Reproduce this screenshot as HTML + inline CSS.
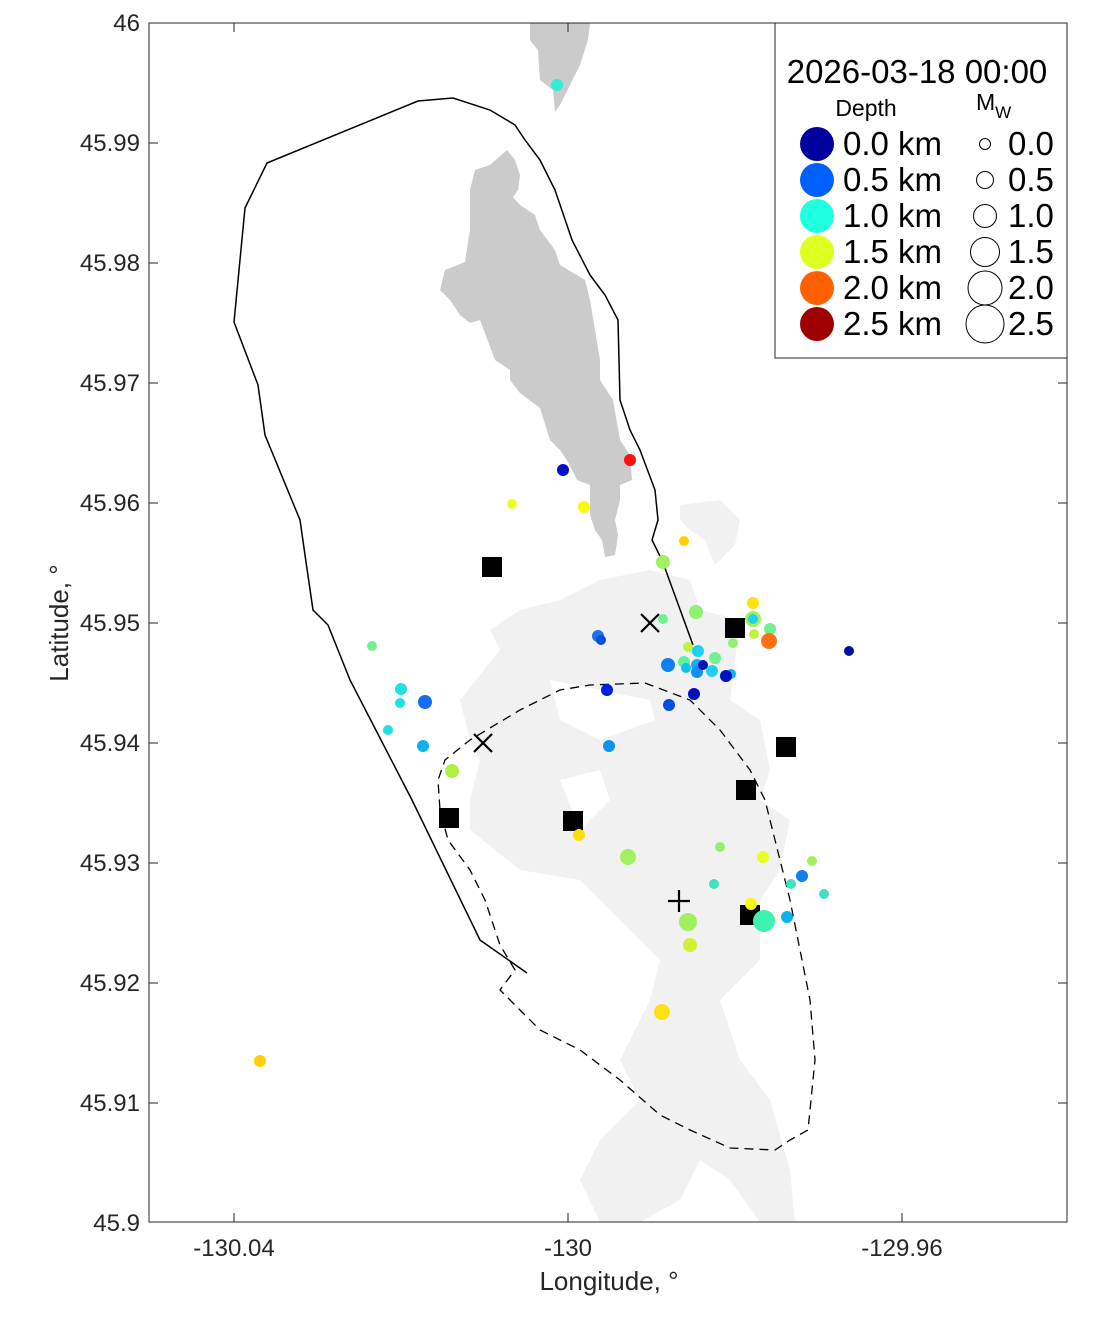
<!DOCTYPE html>
<html><head><meta charset="utf-8"><style>body{margin:0;background:#fff}</style></head><body>
<svg width="1111" height="1324" xmlns="http://www.w3.org/2000/svg" font-family="Liberation Sans, Arial, sans-serif">
<rect width="1111" height="1324" fill="#fff"/>
<defs><clipPath id="c"><rect x="149" y="23" width="918" height="1199"/></clipPath></defs>
<g clip-path="url(#c)">
<polygon fill="#f1f1f1" points="680,505 720,500 740,520 735,545 715,565 705,540 690,530 680,520"/>
<polygon fill="#f1f1f1" points="600,580 650,570 690,580 700,610 740,620 730,700 760,720 770,770 760,800 790,820 780,870 760,900 760,960 740,980 720,1000 740,1060 770,1100 790,1170 795,1222 760,1222 730,1180 700,1160 680,1200 640,1222 600,1222 580,1180 600,1140 640,1100 620,1060 650,1000 660,960 640,940 600,900 580,880 520,870 470,830 470,800 480,760 470,740 460,700 500,650 490,630 520,610 560,600"/>
<polygon fill="#fff" points="550,680 600,690 650,700 655,720 600,740 560,720"/>
<polygon fill="#fff" points="560,780 600,770 610,800 580,830"/>
<polygon fill="#cbcbcb" points="530,23 590,23 588,40 580,65 570,85 560,105 555,112 553,90 540,80 538,50 530,40"/>
<polygon fill="#cbcbcb" points="507,150 515,160 520,175 518,190 513,197 520,205 535,215 540,230 555,250 560,265 585,280 590,300 595,330 600,360 600,380 613,400 620,440 630,455 632,480 620,485 620,500 615,520 618,535 615,555 605,557 602,540 595,530 590,515 590,500 590,485 577,480 568,462 560,450 550,440 540,408 520,393 510,380 510,370 495,360 480,320 470,323 460,315 450,300 440,290 445,270 465,262 470,230 470,190 475,170 490,165"/>
<polyline fill="none" stroke="#000" stroke-width="1.5" points="693,645 662,560 652,540 658,520 655,490 640,450 630,430 620,400 618,320 605,295 590,275 572,240 555,190 540,160 525,140 515,125 490,110 453,98 418,101 267,163 245,208 234,322 258,385 265,435 300,520 305,555 313,610 328,625 350,680 412,800 480,940 527,973"/>
<polygon fill="none" stroke="#000" stroke-width="1.3" stroke-dasharray="9,6" points="515,970 500,945 485,900 470,870 448,840 440,810 438,780 445,760 470,740 520,710 560,690 590,685 645,683 690,700 720,730 750,770 765,800 775,840 790,900 810,1000 815,1060 808,1130 790,1140 775,1150 730,1148 690,1130 660,1115 620,1080 580,1050 540,1030 520,1010 500,990"/>
<g fill="#000"><rect x="482" y="557" width="20" height="20"/><rect x="439" y="808" width="20" height="20"/><rect x="563" y="811" width="20" height="20"/><rect x="725" y="618" width="20" height="20"/><rect x="776" y="737" width="20" height="20"/><rect x="736" y="780" width="20" height="20"/><rect x="740" y="905" width="20" height="20"/></g>
<g stroke="#000" stroke-width="2.2"><path d="M641 614l18 18M659 614l-18 18M474 734l18 18M492 734l-18 18M668 901h22M679 890v22"/></g>
<g>
<circle cx="557" cy="85" r="6" fill="#2ef0d8"/><circle cx="563" cy="470" r="6" fill="#0010d0"/><circle cx="630" cy="460" r="6" fill="#ff1010"/><circle cx="512" cy="504" r="5" fill="#e8ff20"/><circle cx="584" cy="507" r="6" fill="#f8f810"/><circle cx="684" cy="541" r="5" fill="#ffd000"/><circle cx="663" cy="562" r="7" fill="#a0f060"/><circle cx="663" cy="619" r="5" fill="#70f090"/><circle cx="696" cy="612" r="7" fill="#90f070"/><circle cx="753" cy="603" r="6" fill="#ffe010"/><circle cx="753" cy="619" r="8" fill="#a0f060"/><circle cx="753" cy="619" r="5" fill="#20d0f0"/><circle cx="770" cy="629" r="6" fill="#70f090"/><circle cx="754" cy="634" r="5" fill="#c0f040"/><circle cx="733" cy="643" r="5" fill="#90f070"/><circle cx="769" cy="641" r="8" fill="#ff7010"/><circle cx="849" cy="651" r="5" fill="#0010a0"/><circle cx="598" cy="636" r="6" fill="#2070f0"/><circle cx="601" cy="640" r="5" fill="#0050e0"/><circle cx="688" cy="647" r="5" fill="#c0f040"/><circle cx="668" cy="665" r="7" fill="#1080f0"/><circle cx="698" cy="651" r="6" fill="#20d0f0"/><circle cx="684" cy="662" r="6" fill="#60f0a0"/><circle cx="715" cy="658" r="6" fill="#70f090"/><circle cx="697" cy="665" r="6" fill="#10b0f0"/><circle cx="686" cy="668" r="5" fill="#10c0f0"/><circle cx="697" cy="672" r="6" fill="#1090f0"/><circle cx="703" cy="665" r="5" fill="#0010c0"/><circle cx="712" cy="671" r="6" fill="#20d0f0"/><circle cx="731" cy="674" r="5" fill="#10b0f0"/><circle cx="726" cy="676" r="6" fill="#0010c0"/><circle cx="607" cy="690" r="6" fill="#0020e0"/><circle cx="694" cy="694" r="6" fill="#0010c0"/><circle cx="669" cy="705" r="6" fill="#0050e0"/><circle cx="372" cy="646" r="5" fill="#70f090"/><circle cx="401" cy="689" r="6" fill="#20e0e0"/><circle cx="400" cy="703" r="5" fill="#20e0e0"/><circle cx="425" cy="702" r="7" fill="#1070f0"/><circle cx="388" cy="730" r="5" fill="#20e0e0"/><circle cx="423" cy="746" r="6" fill="#10b0f0"/><circle cx="609" cy="746" r="6" fill="#1090f0"/><circle cx="452" cy="771" r="7" fill="#b0f040"/><circle cx="579" cy="835" r="6" fill="#f8e010"/><circle cx="628" cy="857" r="8" fill="#a0f060"/><circle cx="720" cy="847" r="5" fill="#90f070"/><circle cx="763" cy="857" r="6" fill="#e8ff20"/><circle cx="812" cy="861" r="5" fill="#a0f060"/><circle cx="714" cy="884" r="5" fill="#40e0c0"/><circle cx="802" cy="876" r="6" fill="#1080f0"/><circle cx="791" cy="884" r="5" fill="#40e0c0"/><circle cx="824" cy="894" r="5" fill="#40e0c0"/><circle cx="751" cy="904" r="6" fill="#f8f810"/><circle cx="764" cy="921" r="11" fill="#40f0b0"/><circle cx="787" cy="917" r="6" fill="#10b0f0"/><circle cx="688" cy="922" r="9" fill="#a0f060"/><circle cx="690" cy="945" r="7" fill="#d0f030"/><circle cx="662" cy="1012" r="8" fill="#ffe010"/><circle cx="260" cy="1061" r="6" fill="#ffd000"/>
</g>
</g>
<rect x="149" y="23" width="918" height="1199" fill="none" stroke="#262626" stroke-width="1"/>
<g stroke="#262626" stroke-width="1">
<path d="M234 1222v-9M568 1222v-9M902 1222v-9M234 23v9M568 23v9M902 23v9"/>
<path d="M149 143h9M149 263h9M149 383h9M149 503h9M149 623h9M149 743h9M149 863h9M149 983h9M149 1103h9M1067 143h-9M1067 263h-9M1067 383h-9M1067 503h-9M1067 623h-9M1067 743h-9M1067 863h-9M1067 983h-9M1067 1103h-9"/>
</g>
<g font-size="24" fill="#262626" text-anchor="end">
<text x="140" y="31">46</text><text x="140" y="151">45.99</text><text x="140" y="271">45.98</text><text x="140" y="391">45.97</text><text x="140" y="511">45.96</text><text x="140" y="631">45.95</text><text x="140" y="751">45.94</text><text x="140" y="871">45.93</text><text x="140" y="991">45.92</text><text x="140" y="1111">45.91</text><text x="140" y="1231">45.9</text>
</g>
<g font-size="24" fill="#262626" text-anchor="middle">
<text x="234" y="1256">-130.04</text><text x="568" y="1256">-130</text><text x="902" y="1256">-129.96</text>
</g>
<text x="609" y="1290" font-size="26" fill="#262626" text-anchor="middle">Longitude, °</text>
<text transform="translate(68,623) rotate(-90)" font-size="26" fill="#262626" text-anchor="middle">Latitude, °</text>
<rect x="775" y="23" width="292" height="335" fill="#fff" stroke="#262626" stroke-width="1"/>
<text x="917" y="83" font-size="33" text-anchor="middle">2026-03-18 00:00</text>
<text x="866" y="116" font-size="23" text-anchor="middle">Depth</text>
<text x="976" y="110" font-size="23">M<tspan font-size="17" dy="8">W</tspan></text>
<g font-size="33">
<circle cx="817" cy="144" r="17" fill="#00009f"/><text x="843" y="155">0.0 km</text>
<circle cx="817" cy="180" r="17" fill="#0060ff"/><text x="843" y="191">0.5 km</text>
<circle cx="817" cy="216" r="17" fill="#20ffdf"/><text x="843" y="227">1.0 km</text>
<circle cx="817" cy="252" r="17" fill="#dfff20"/><text x="843" y="263">1.5 km</text>
<circle cx="817" cy="288" r="17" fill="#ff6000"/><text x="843" y="299">2.0 km</text>
<circle cx="817" cy="324" r="17" fill="#9f0000"/><text x="843" y="335">2.5 km</text>
<g fill="none" stroke="#000" stroke-width="1">
<circle cx="985" cy="144" r="5.5"/><circle cx="985" cy="180" r="8.5"/><circle cx="985" cy="216" r="11.5"/><circle cx="985" cy="252" r="14.5"/><circle cx="985" cy="288" r="17"/><circle cx="985" cy="324" r="19"/></g>
<text x="1008" y="155">0.0</text><text x="1008" y="191">0.5</text><text x="1008" y="227">1.0</text><text x="1008" y="263">1.5</text><text x="1008" y="299">2.0</text><text x="1008" y="335">2.5</text>
</g>
</svg>
</body></html>
